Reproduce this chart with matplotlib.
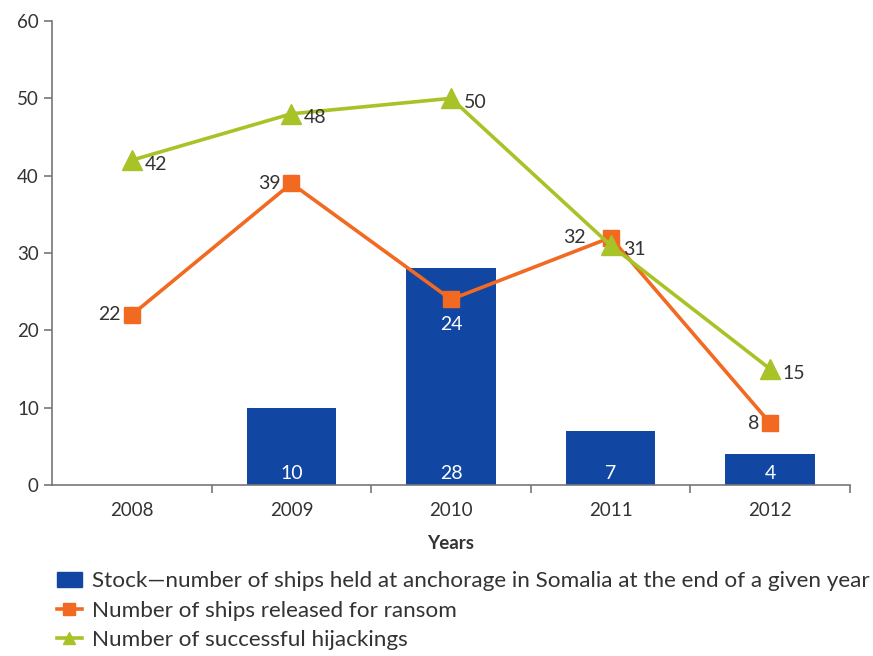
import matplotlib.pyplot as plt
from matplotlib.lines import Line2D
from matplotlib.patches import Patch

plt.rcParams['font.family'] = ['Lato', 'DejaVu Sans']

years = ["2008", "2009", "2010", "2011", "2012"]
stock = [0, 10, 28, 7, 4]
released = [22, 39, 24, 32, 8]
hijacked = [42, 48, 50, 31, 15]

blue = "#1147a3"
orange = "#f26a21"
green = "#a8c328"
text_c = "#333333"
axis_c = "#777777"

fig = plt.figure(figsize=(8.73, 6.56), dpi=100)
ax = fig.add_axes([0.0596, 0.2607, 0.914, 0.7073])

x = list(range(len(years)))
ax.bar(x, stock, width=0.56, color=blue, zorder=2)
for xi, v in zip(x, stock):
    if v > 0:
        ax.annotate(str(v), (xi, 0), xytext=(0, 2), textcoords="offset points",
                    ha="center", va="bottom", color="white", fontsize=14)

ax.plot(x, released, color=orange, lw=2.6, marker="s", ms=11, zorder=3)
ax.plot(x, hijacked, color=green, lw=2.6, marker="^", ms=14, zorder=4)

# labels for released (left of marker, except 2010 below)
for xi, v in zip(x, released):
    if xi == 2:
        ax.annotate(str(v), (xi, v), xytext=(0, -12), textcoords="offset points",
                    ha="center", va="top", color="white", fontsize=14, zorder=5)
    else:
        dx = -18 if xi == 3 else -8
        ax.annotate(str(v), (xi, v), xytext=(dx, 0), textcoords="offset points",
                    ha="right", va="center", color=text_c, fontsize=14, zorder=5)

for xi, v in zip(x, hijacked):
    ax.annotate(str(v), (xi, v), xytext=(9, -3), textcoords="offset points",
                ha="left", va="center", color=text_c, fontsize=14, zorder=5)

ax.set_xlim(-0.5, 4.5)
ax.set_ylim(0, 60)
ax.set_yticks(range(0, 61, 10))
ax.set_xticks(x)
ax.set_xticklabels(years)
ax.set_xticks([0.5, 1.5, 2.5, 3.5, 4.5], minor=True)
ax.tick_params(axis="x", which="major", length=0, pad=12, labelsize=13.5, labelcolor=text_c)
ax.tick_params(axis="x", which="minor", length=6, color=axis_c, width=1.2)
ax.tick_params(axis="y", length=6, color=axis_c, width=1.2, labelsize=13.5, labelcolor=text_c)
for s in ["top", "right"]:
    ax.spines[s].set_visible(False)
for s in ["left", "bottom"]:
    ax.spines[s].set_color(axis_c)
    ax.spines[s].set_linewidth(1.2)
ax.set_xlabel("Years", fontsize=13.5, fontweight="bold", color=text_c, labelpad=12)

handles = [
    Patch(color=blue),
    Line2D([0], [0], color=orange, lw=2.6, marker="s", ms=8),
    Line2D([0], [0], color=green, lw=2.6, marker="^", ms=9),
]
labels = [
    "Stock\u2014number of ships held at anchorage in Somalia at the end of a given year",
    "Number of ships released for ransom",
    "Number of successful hijackings",
]
fig.legend(handles, labels, loc="lower left", bbox_to_anchor=(0.042, -0.022),
           frameon=False, fontsize=16.2, handlelength=1.1, handletextpad=0.45,
           labelspacing=0.42, labelcolor=text_c)

fig.savefig("out.png")
